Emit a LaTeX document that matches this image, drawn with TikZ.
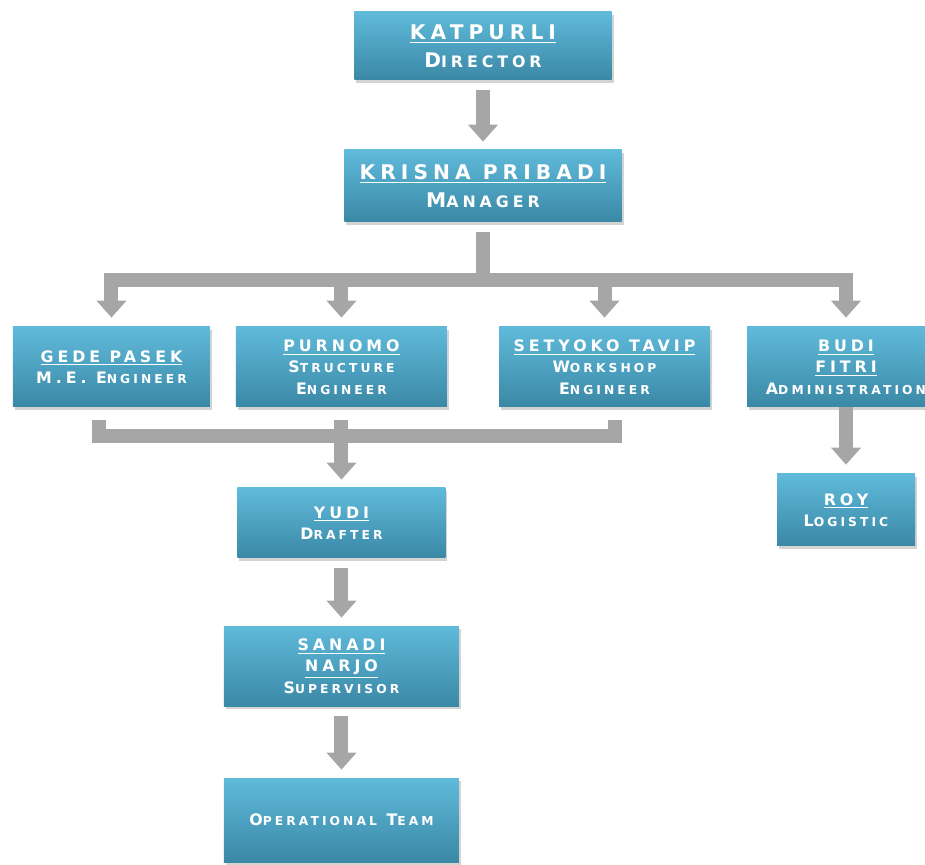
\documentclass[tikz,border=0pt]{standalone}
\usepackage{fontspec}
\usepackage{relsize}
\usetikzlibrary{arrows.meta,positioning,shadows}
\newfontfamily\orgfont[LetterSpace=25]{DejaVu Sans}
\newcommand{\lc}[1]{{\relscale{0.8}#1}}
\definecolor{boxtop}{RGB}{96,186,218}
\definecolor{boxbot}{RGB}{58,136,166}
\definecolor{bargray}{RGB}{166,166,166}
\tikzstyle{person} = [rectangle, draw=none, top color=boxtop, bottom color=boxbot, text=white, align=center, inner sep=0pt, font=\orgfont\bfseries\fontsize{9}{12.2}\selectfont, drop shadow={shadow xshift=0.4mm, shadow yshift=-0.6mm, opacity=0.35}]
\tikzstyle{head} = [person, font=\orgfont\bfseries\fontsize{11.5}{16}\selectfont]
\tikzstyle{bar} = [line width=2.8mm, draw=bargray]
\tikzstyle{arrow} = [bar, -{Triangle[width=5.8mm, length=3.4mm]}]

\begin{document}
\begin{tikzpicture}[node distance=28mm]
\path[use as bounding box] (-96.6mm,9.2mm) rectangle (88.4mm,-163.8mm);

\node (director) [head, minimum width=51.4mm, minimum height=13.6mm] {\underline{KATPURLI}\\D\lc{IRECTOR}};
\node (manager) [head, below of=director, minimum width=55.4mm, minimum height=14.4mm] {\underline{KRISNA PRIBADI}\\M\lc{ANAGER}};

\node (purnomo) [person, below of=manager, node distance=36.2mm, xshift=-28.3mm, minimum width=42.2mm, minimum height=16mm] {\underline{PURNOMO}\\S\lc{TRUCTURE}\\E\lc{NGINEER}};
\node (gede) [person, left of=purnomo, node distance=46mm, minimum width=39.4mm, minimum height=16mm] {\underline{GEDE PASEK}\\M.E. E\lc{NGINEER}};
\node (setyoko) [person, right of=purnomo, node distance=52.6mm, minimum width=42.2mm, minimum height=16mm] {\underline{SETYOKO TAVIP}\\W\lc{ORKSHOP}\\E\lc{NGINEER}};
\node (budi) [person, right of=setyoko, node distance=48.3mm, minimum width=39.6mm, minimum height=16mm] {\underline{BUDI}\\\underline{FITRI}\\A\lc{DMINISTRATION}};

\node (yudi) [person, below of=purnomo, node distance=31.2mm, minimum width=41.6mm, minimum height=14mm] {\underline{YUDI}\\D\lc{RAFTER}};
\node (sanadi) [person, below of=yudi, node distance=28.6mm, minimum width=47mm, minimum height=16mm] {\underline{SANADI}\\\underline{NARJO}\\S\lc{UPERVISOR}};
\node (oper) [person, below of=sanadi, node distance=30.8mm, minimum width=47mm, minimum height=16.8mm] {O\lc{PERATIONAL} T\lc{EAM}};

\node (roy) [person, below of=budi, node distance=28.6mm, minimum width=27.6mm, minimum height=14.4mm] {\underline{ROY}\\L\lc{OGISTIC}};

%arrows
\draw [arrow, shorten <=2mm, shorten >=1.6mm] (director) -- (manager);
\coordinate [below of=manager, node distance=18.8mm] (split);
\draw [bar, shorten <=2mm] (manager) -- (split);
\foreach \n in {gede,purnomo,setyoko,budi}
  \draw [arrow, shorten >=1.8mm] (split) -| (\n);

\draw [bar] ([xshift=-2.5mm, yshift=-2.6mm]gede.south) -- ++(0,-3.2mm) -| ([xshift=2.1mm, yshift=-2.6mm]setyoko.south);
\draw [arrow, shorten >=1.6mm] ([yshift=-2.6mm]purnomo.south) -- (yudi);
\draw [arrow, shorten <=2mm, shorten >=1.6mm] (yudi) -- (sanadi);
\draw [arrow, shorten <=2mm, shorten >=1.6mm] (sanadi) -- (oper);
\draw [arrow, shorten >=1.8mm] (budi) -- (roy);
\end{tikzpicture}
\end{document}
